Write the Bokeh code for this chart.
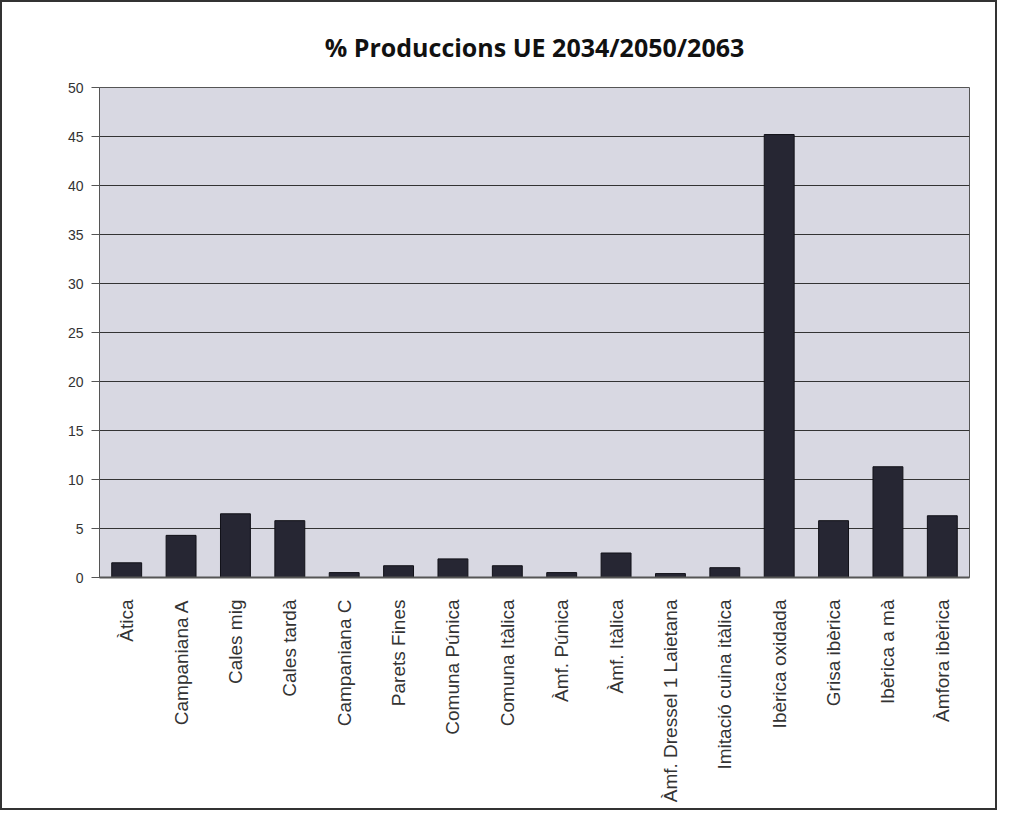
from bokeh.plotting import figure
from bokeh.models import ColumnDataSource, Range1d, FixedTicker
from bokeh.embed import file_html
from bokeh.resources import INLINE

categories = ["Àtica", "Campaniana A", "Cales mig", "Cales tardà", "Campaniana C",
              "Parets Fines", "Comuna Púnica", "Comuna Itàlica", "Àmf. Púnica",
              "Àmf. Itàlica", "Àmf. Dressel 1 Laietana", "Imitació cuina itàlica",
              "Ibèrica oxidada", "Grisa ibèrica", "Ibèrica a mà", "Àmfora ibèrica"]
values = [1.5, 4.3, 6.5, 5.8, 0.5, 1.2, 1.9, 1.2, 0.5, 2.5, 0.4, 1.0, 45.2, 5.8, 11.3, 6.3]
y_ticks = [0, 5, 10, 15, 20, 25, 30, 35, 40, 45, 50]

src = ColumnDataSource(dict(cat=categories, val=values))

p = figure(x_range=categories, y_range=Range1d(0, 50), width=997, height=810,
           output_backend="svg", toolbar_location=None,
           title="% Produccions UE 2034/2050/2063",
           min_border_left=97, min_border_right=30, min_border_top=85,
           min_border_bottom=235)
p.styles = {"border": "2px solid #333333"}
p.border_fill_color = "white"

p.title.align = "center"
p.title.text_font = "Open Sans"
p.title.text_font_size = "25px"
p.title.text_font_style = "bold"
p.title.text_color = "#111111"
p.title.offset = 0
p.title.standoff = 47

p.vbar(x="cat", top="val", width=0.55, source=src,
       fill_color="#262633", line_color="#111118", line_width=1)

p.background_fill_color = "#d8d8e2"
p.outline_line_color = "#555555"

p.yaxis.ticker = FixedTicker(ticks=y_ticks)
p.ygrid.ticker = FixedTicker(ticks=y_ticks)
p.ygrid.grid_line_color = "#333333"
p.ygrid.grid_line_width = 1.2
p.xgrid.grid_line_color = None

for ax in (p.xaxis, p.yaxis):
    ax.major_label_text_font = "Liberation Sans"
    ax.major_label_text_color = "#333333"
    ax.axis_line_color = "#555555"
    ax.major_tick_line_color = "#555555"
    ax.minor_tick_line_color = None

p.xaxis.major_label_text_font_size = "19px"
p.yaxis.major_label_text_font_size = "14px"
p.xaxis.major_label_orientation = 1.5708
p.xaxis.major_tick_line_color = None
p.xaxis.major_label_standoff = 16
p.yaxis.major_tick_out = 8
p.yaxis.major_tick_in = 0
p.yaxis.major_label_standoff = 8
p.xaxis.axis_line_width = 2

open("out.html", "w").write(file_html(p, INLINE))
